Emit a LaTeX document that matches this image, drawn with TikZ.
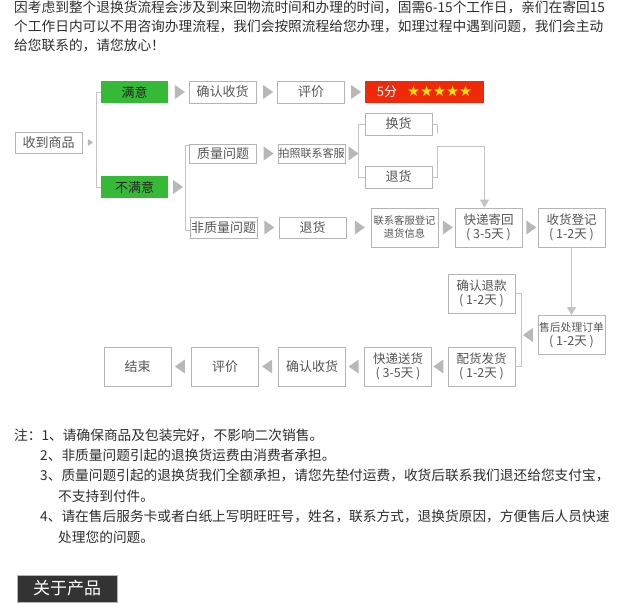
\documentclass[tikz,border=0pt]{standalone}
\usepackage{fontspec}
\setmainfont{Noto Sans CJK SC}
\newfontfamily\symfont{DejaVu Sans}
\usetikzlibrary{shapes.geometric,arrows.meta}
\definecolor{boxgray}{HTML}{B4B4B4}
\definecolor{linegray}{HTML}{C4C4C4}
\definecolor{trigray}{HTML}{B8B8B8}
\definecolor{txtgray}{HTML}{555555}
\definecolor{txtdark}{HTML}{2E2E2E}
\definecolor{okgreen}{HTML}{36B936}
\definecolor{redbox}{HTML}{EE2A0A}
\definecolor{staryellow}{HTML}{FFE600}
\definecolor{darkbox}{HTML}{333333}
\begin{document}
\begin{tikzpicture}[x=1pt,y=-1pt,
  box/.style={draw=boxgray, line width=0.8pt, fill=white, text=txtgray,
    minimum width=67pt, minimum height=21pt, inner sep=0pt,
    font=\fontsize{13}{15}\selectfont, align=center},
  tallbox/.style={box, minimum height=39pt, font=\fontsize{12.5}{14}\selectfont},
  greenbox/.style={box, draw=none, fill=okgreen, text=black!85, minimum height=22pt},
  tri/.style={isosceles triangle, isosceles triangle apex angle=70, inner sep=0pt,
    minimum height=10pt, fill=trigray, draw=none},
  tril/.style={tri, shape border rotate=180},
  smalltri/.style={tri, minimum height=5pt},
  conn/.style={draw=linegray, line width=0.8pt},
  arr/.style={conn, -{Triangle[width=9pt,length=8pt]}},
  para/.style={anchor=west, text=txtdark, inner sep=0pt, font=\fontsize{13.7}{16}\selectfont},
]
\useasboundingbox (0,0) rectangle (620,602);
\fill[white] (0,0) rectangle (620,602);

% intro paragraph
\node[para] (p1) at (14,7) {因考虑到整个退换货流程会涉及到来回物流时间和办理的时间，固需6-15个工作日，亲们在寄回15};
\node[para] (p2) at (14,26) {个工作日内可以不用咨询办理流程，我们会按照流程给您办理，如理过程中遇到问题，我们会主动};
\node[para] (p3) at (14,45) {给您联系的，请您放心！};

% first column
\node[box] (recv) at (48.5,142.5) {收到商品};
\node[greenbox] (ok) at (134.5,92) {满意};
\node[greenbox] (notok) at (134.5,187) {不满意};
\coordinate (b1) at (97,142.5);
\path (recv) -- node[smalltri]{} (b1);
\draw[conn] (ok.west) -- ++(-4,0) |- (notok.west);

% satisfied row
\node[box, minimum height=22pt] (qrsh1) at (222.5,92) {确认收货};
\node[box, minimum height=22pt] (pj1) at (311,92) {评价};
\node[box, draw=none, fill=redbox, minimum width=119pt, minimum height=22pt] (five) at (424.5,92)
  {{\color{white}5分}\hspace{10pt}{\symfont\fontsize{14.5}{15}\selectfont\color{staryellow}★★★★★}};
\path (ok) -- node[tri]{} (qrsh1);
\path (qrsh1) -- node[tri]{} (pj1);
\path (pj1) -- node[tri]{} (five);

% unsatisfied branch
\node[box, minimum height=19pt] (zl) at (223,153.5) {质量问题};
\node[box] (fzl) at (223.5,227.5) {非质量问题};
\coordinate (b2) at (185,187);
\path (notok) -- node[tri]{} (b2);
\draw[conn] ([yshift=-2pt]zl.north west) -- ++(-4,0) |- ([yshift=-2.5pt]fzl.west);

\node[box, minimum height=19pt, font=\fontsize{11}{13}\selectfont] (pz) at (311.5,153.5) {拍照联系客服};
\path (zl) -- node[tri]{} (pz);
\node[box, minimum height=22pt] (hh) at (398.5,124) {换货};
\node[box, minimum height=22pt] (th1) at (398.5,177) {退货};
\coordinate (b3) at (359,153.5);
\path (pz) -- node[tri]{} (b3);
\draw[conn] (hh.west) -- ++(-6,0) |- (th1.west);
\draw[conn] (hh.east) -- ++(5,0) -- ++(0,9);

% third row
\node[box] (th2) at (312.5,227.5) {退货};
\node[tallbox, font=\fontsize{10.3}{13}\selectfont] (lxkf) at (404.5,227.5) {联系客服登记\\退货信息};
\node[tallbox] (kdjh) at (488.5,227.5) {快递寄回\\( 3-5天 )};
\node[tallbox] (shdj) at (571.5,227.5) {收货登记\\( 1-2天 )};
\path (fzl) -- node[tri]{} (th2);
\path (th2) -- node[tri]{} (lxkf);
\path (lxkf) -- node[tri]{} (kdjh);
\path (kdjh) -- node[tri]{} (shdj);
\draw[arr] (th1.east) -- ++(5,0) -- ++(0,-31) -| ([xshift=-4pt]kdjh.north);

% right side down
\node[tallbox, font=\fontsize{10.8}{14}\selectfont] (shcl) at (571.5,335) {售后处理订单\\{\fontsize{12.5}{14}\selectfont( 1-2天 )}};
\draw[arr] (shdj) -- (shcl);
\node[tallbox] (qrtk) at (481.5,293.5) {确认退款\\( 1-2天 )};
\node[tallbox] (phfh) at (481.5,366.5) {配货发货\\( 1-2天 )};
\coordinate (b4) at (521,335);
\path (shcl) -- node[tril]{} (b4);
\draw[conn] (qrtk.east) -- ++(6,0) |- (phfh.east);

% bottom row
\node[tallbox] (kdsh) at (398,366.5) {快递送货\\( 3-5天 )};
\node[tallbox, font=\fontsize{13}{15}\selectfont] (qrsh2) at (312,366.5) {确认收货};
\node[tallbox, font=\fontsize{13}{15}\selectfont] (pj2) at (225,366.5) {评价};
\node[tallbox, font=\fontsize{13}{15}\selectfont] (end) at (137.5,366.5) {结束};
\path (phfh) -- node[tril]{} (kdsh);
\path (kdsh) -- node[tril]{} (qrsh2);
\path (qrsh2) -- node[tril]{} (pj2);
\path (pj2) -- node[tril]{} (end);

% notes
\node[para] (n1) at (14,435) {注：1、请确保商品及包装完好，不影响二次销售。};
\node[para] (n2) at (40,455) {2、非质量问题引起的退换货运费由消费者承担。};
\node[para] (n3) at (40,475) {3、质量问题引起的退换货我们全额承担，请您先垫付运费，收货后联系我们退还给您支付宝，};
\node[para] (n3b) at (58,496) {不支持到付件。};
\node[para] (n4) at (40,516) {4、请在售后服务卡或者白纸上写明旺旺号，姓名，联系方式，退换货原因，方便售后人员快速};
\node[para] (n4b) at (58,537) {处理您的问题。};

% product heading
\node[fill=darkbox, draw=boxgray, line width=0.5pt, text=white, minimum width=100pt, minimum height=27pt,
  inner sep=0pt, font=\fontsize{17}{19}\selectfont] (about) at (67,588.5) {关于产品};
\end{tikzpicture}
\end{document}
